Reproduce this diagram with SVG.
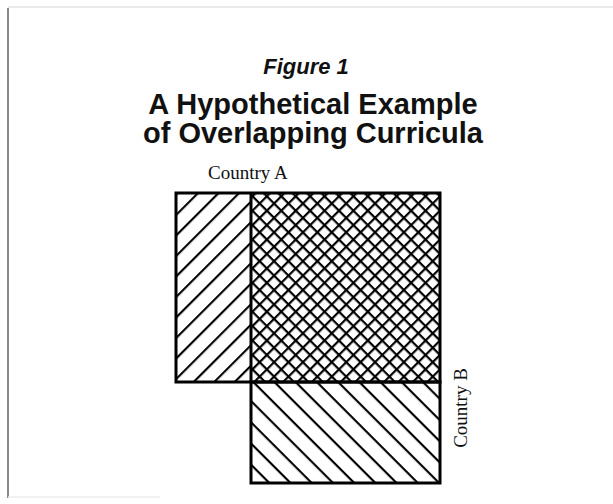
<svg xmlns="http://www.w3.org/2000/svg" width="613" height="504" viewBox="0 0 613 504">
  <style>
    .title { font-family: "Liberation Sans", Arial, sans-serif; font-weight: bold; fill: #111; text-anchor: middle; }
    .label { font-family: "Liberation Serif", "Times New Roman", serif; font-size: 19px; fill: #111; }
    .box { fill: none; stroke: #000; stroke-width: 3; }
  </style>
  <defs>
    <pattern id="hatchA" patternUnits="userSpaceOnUse" width="14.5" height="14.5" patternTransform="rotate(-45)">
      <line x1="0" y1="1" x2="14.5" y2="1" stroke="#000" stroke-width="2.3"/>
    </pattern>
    <pattern id="hatchB" patternUnits="userSpaceOnUse" width="15" height="15" patternTransform="rotate(45)">
      <line x1="0" y1="1" x2="15" y2="1" stroke="#000" stroke-width="2.3"/>
    </pattern>
    <pattern id="cross" patternUnits="userSpaceOnUse" width="10.2" height="10.2" patternTransform="rotate(45)">
      <line x1="0" y1="1" x2="10.2" y2="1" stroke="#000" stroke-width="2.4"/>
      <line x1="1" y1="0" x2="1" y2="10.2" stroke="#000" stroke-width="2.4"/>
    </pattern>
  </defs>
  <rect width="613" height="504" fill="#fff"/>
  <g id="frame">
    <line x1="8" y1="7" x2="613" y2="7" stroke="#e4e4e4" stroke-width="1.5"/>
    <line x1="8" y1="8" x2="8" y2="498" stroke="#8a8a8a" stroke-width="2"/>
    <line x1="8" y1="497" x2="160" y2="497" stroke="#ededed" stroke-width="1.5"/>
  </g>
  <g id="titles">
    <text class="title" x="306" y="74" font-size="22" font-style="italic">Figure 1</text>
    <text class="title" x="313" y="114" font-size="29">A Hypothetical Example</text>
    <text class="title" x="313" y="143" font-size="29">of Overlapping Curricula</text>
  </g>
  <g id="country-a-only">
    <rect x="176" y="193" width="75" height="189" fill="url(#hatchA)"/>
  </g>
  <g id="overlap">
    <rect x="251" y="193" width="189" height="189" fill="url(#cross)"/>
  </g>
  <g id="country-b-only">
    <rect x="251" y="382" width="189" height="101" fill="url(#hatchB)"/>
  </g>
  <g id="outlines">
    <rect class="box" x="176" y="193" width="264" height="189"/>
    <rect class="box" x="251" y="382" width="189" height="101"/>
    <line x1="251" y1="193" x2="251" y2="382" stroke="#000" stroke-width="3"/>
  </g>
  <g id="country-a-label">
    <text class="label" x="208" y="179">Country A</text>
  </g>
  <g id="country-b-label">
    <text class="label" transform="translate(467,408) rotate(-90)" text-anchor="middle">Country B</text>
  </g>
  <g id="connectors"/>
</svg>
